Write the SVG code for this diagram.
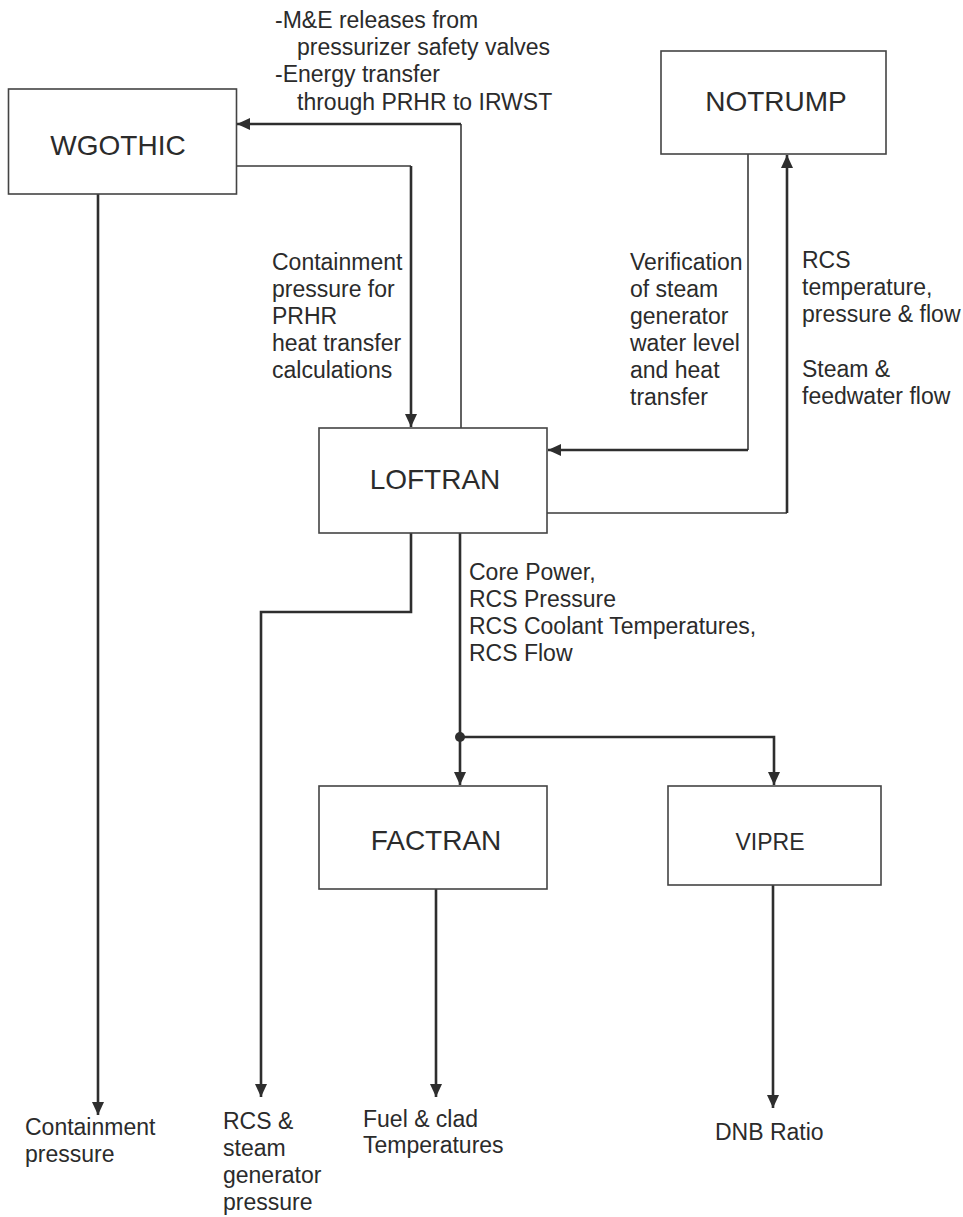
<svg xmlns="http://www.w3.org/2000/svg" width="963" height="1217" viewBox="0 0 963 1217">
  <style>
    .box { fill: #ffffff; stroke: #444444; stroke-width: 1.6; }
    .title { font-family: "Liberation Sans", Arial, sans-serif; font-size: 28px; fill: #2b2b2b; text-anchor: middle; }
    .small-title { font-size: 23px; }
    .lbl { font-family: "Liberation Sans", Arial, sans-serif; font-size: 23px; fill: #2b2b2b; }
    .thin { fill: none; stroke: #3a3a3a; stroke-width: 1.6; }
    .thick { fill: none; stroke: #2e2e2e; stroke-width: 2.6; }
  </style>
  <defs>
    <marker id="arrow" viewBox="0 0 13 12" refX="13" refY="6" markerWidth="13" markerHeight="12" markerUnits="userSpaceOnUse" orient="auto">
      <path d="M0,0 L13,6 L0,12 Z" fill="#2e2e2e"/>
    </marker>
  </defs>
  <rect width="963" height="1217" fill="#ffffff"/>

  <!-- connectors -->
  <g id="connectors">
    <!-- LOFTRAN to WGOTHIC: M&E releases / PRHR energy transfer -->
    <path class="thin" d="M461,428 V124"/>
    <path class="thick" d="M461,124 H237" marker-end="url(#arrow)"/>
    <!-- WGOTHIC to LOFTRAN: containment pressure -->
    <path class="thin" d="M236,166 H411"/>
    <path class="thick" d="M411,166 V427" marker-end="url(#arrow)"/>
    <!-- WGOTHIC output: containment pressure -->
    <path class="thick" d="M98,194 V1115" marker-end="url(#arrow)"/>
    <!-- NOTRUMP to LOFTRAN: verification -->
    <path class="thin" d="M748,154 V450"/>
    <path class="thick" d="M748,450 H548" marker-end="url(#arrow)"/>
    <!-- LOFTRAN to NOTRUMP: RCS conditions -->
    <path class="thin" d="M547,513 H787"/>
    <path class="thick" d="M787,513 V155" marker-end="url(#arrow)"/>
    <!-- LOFTRAN output: RCS and steam generator pressure -->
    <path class="thick" d="M411,533 V612 H261 V1097" marker-end="url(#arrow)"/>
    <!-- LOFTRAN to FACTRAN and VIPRE -->
    <path class="thick" d="M460,533 V785" marker-end="url(#arrow)"/>
    <path class="thick" d="M460,737 H774 V785" marker-end="url(#arrow)"/>
    <circle cx="460" cy="737" r="5" fill="#2e2e2e"/>
    <!-- FACTRAN output -->
    <path class="thick" d="M436,889 V1097" marker-end="url(#arrow)"/>
    <!-- VIPRE output -->
    <path class="thick" d="M773,885 V1108" marker-end="url(#arrow)"/>
  </g>

  <!-- nodes -->
  <g id="wgothic">
    <rect class="box" x="8.5" y="89" width="228" height="105"/>
    <text class="title" x="118" y="155">WGOTHIC</text>
  </g>
  <g id="notrump">
    <rect class="box" x="661" y="51" width="225" height="103"/>
    <text class="title" x="776" y="111">NOTRUMP</text>
  </g>
  <g id="loftran">
    <rect class="box" x="319" y="428" width="228" height="105"/>
    <text class="title" x="435" y="489">LOFTRAN</text>
  </g>
  <g id="factran">
    <rect class="box" x="319" y="786" width="228" height="103"/>
    <text class="title" x="436" y="850">FACTRAN</text>
  </g>
  <g id="vipre">
    <rect class="box" x="668" y="786" width="213" height="99"/>
    <text class="title small-title" x="770" y="850">VIPRE</text>
  </g>

  <!-- labels -->
  <g id="labels">
    <text class="lbl" x="275" y="28">-M&amp;E releases from</text>
    <text class="lbl" x="297" y="55">pressurizer safety valves</text>
    <text class="lbl" x="275" y="82">-Energy transfer</text>
    <text class="lbl" x="297" y="110">through PRHR to IRWST</text>

    <text class="lbl" x="272" y="270">Containment</text>
    <text class="lbl" x="272" y="297">pressure for</text>
    <text class="lbl" x="272" y="324">PRHR</text>
    <text class="lbl" x="272" y="351">heat transfer</text>
    <text class="lbl" x="272" y="378">calculations</text>

    <text class="lbl" x="630" y="270">Verification</text>
    <text class="lbl" x="630" y="297">of steam</text>
    <text class="lbl" x="630" y="324">generator</text>
    <text class="lbl" x="630" y="351">water level</text>
    <text class="lbl" x="630" y="378">and heat</text>
    <text class="lbl" x="630" y="405">transfer</text>

    <text class="lbl" x="802" y="268">RCS</text>
    <text class="lbl" x="802" y="295">temperature,</text>
    <text class="lbl" x="802" y="322">pressure &amp; flow</text>
    <text class="lbl" x="802" y="377">Steam &amp;</text>
    <text class="lbl" x="802" y="404">feedwater flow</text>

    <text class="lbl" x="469" y="580">Core Power,</text>
    <text class="lbl" x="469" y="607">RCS Pressure</text>
    <text class="lbl" x="469" y="634">RCS Coolant Temperatures,</text>
    <text class="lbl" x="469" y="661">RCS Flow</text>

    <text class="lbl" x="25" y="1135">Containment</text>
    <text class="lbl" x="25" y="1162">pressure</text>

    <text class="lbl" x="223" y="1129">RCS &amp;</text>
    <text class="lbl" x="223" y="1156">steam</text>
    <text class="lbl" x="223" y="1183">generator</text>
    <text class="lbl" x="223" y="1210">pressure</text>

    <text class="lbl" x="363" y="1127">Fuel &amp; clad</text>
    <text class="lbl" x="363" y="1153">Temperatures</text>

    <text class="lbl" x="715" y="1140">DNB Ratio</text>
  </g>
</svg>
